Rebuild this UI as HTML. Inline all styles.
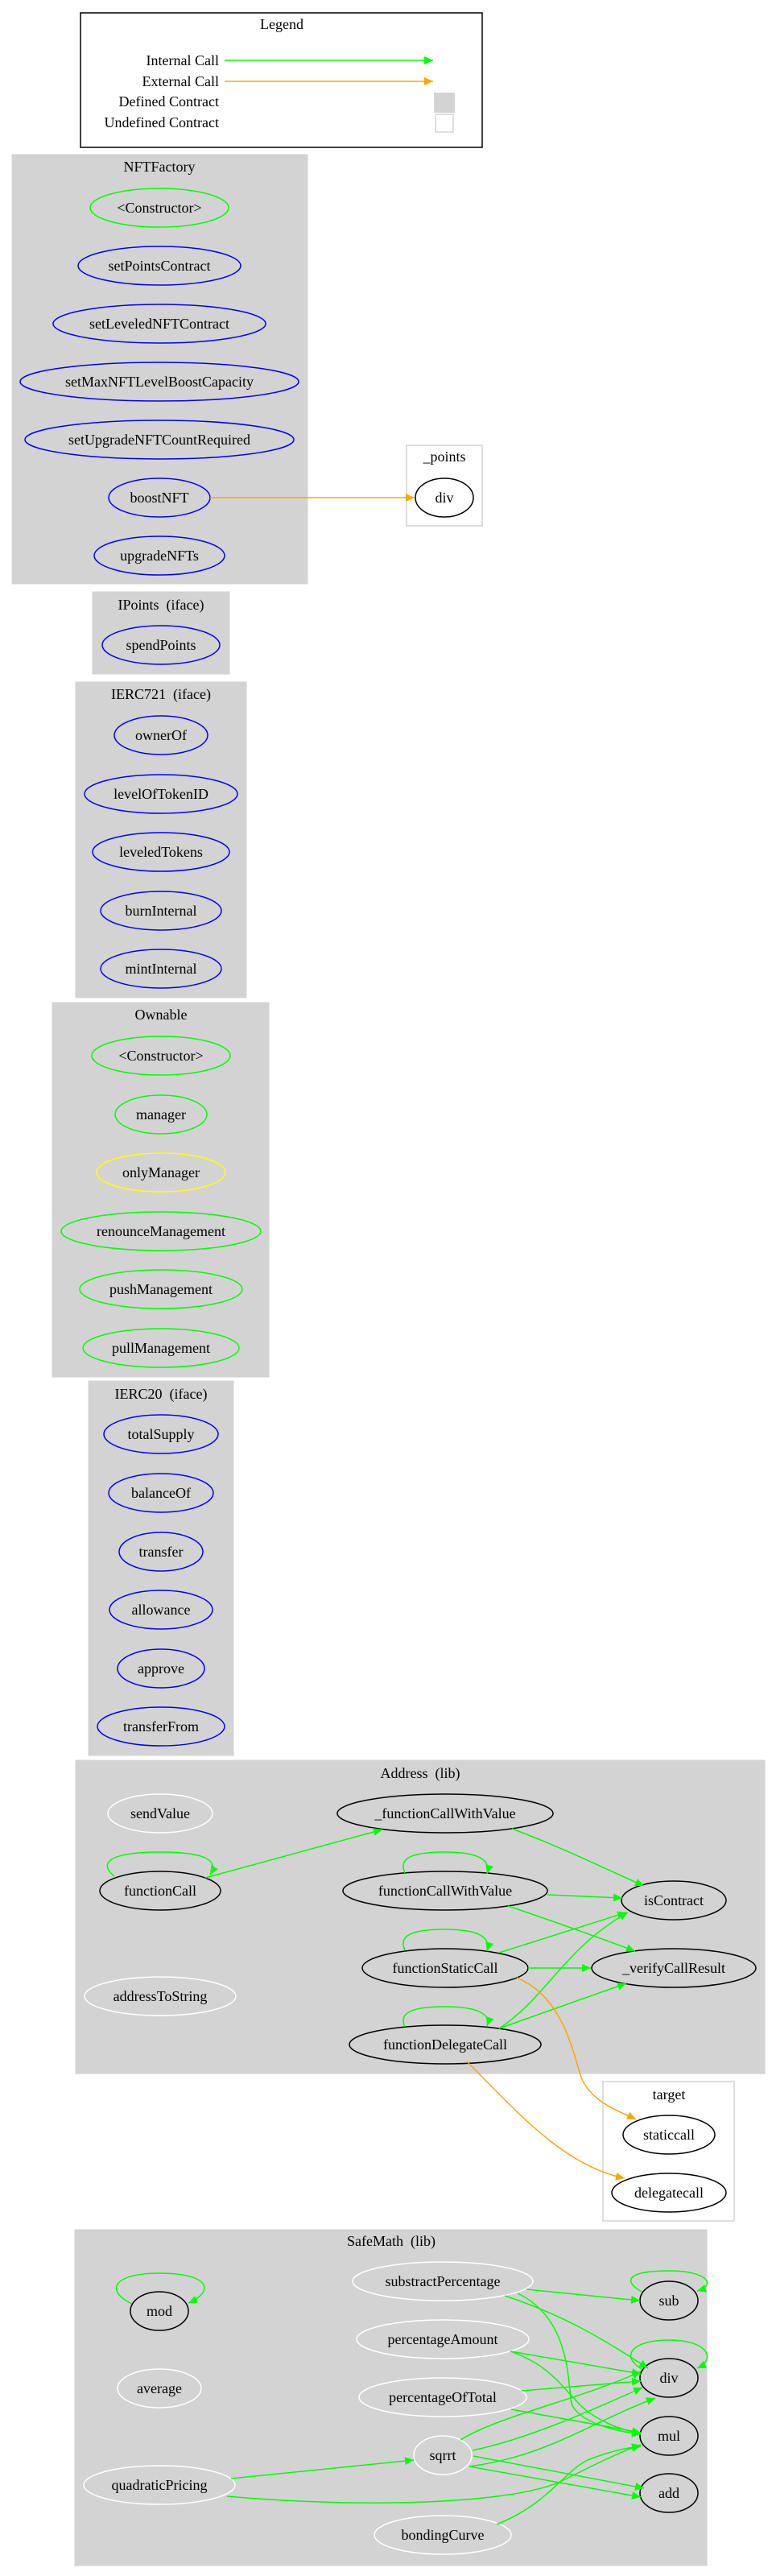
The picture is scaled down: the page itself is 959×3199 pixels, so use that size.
<!DOCTYPE html>
<html><head><meta charset="utf-8">
<style>
html,body{margin:0;padding:0;background:#fff;}
svg{display:block;}
text{font-family:"Liberation Serif",serif;font-size:18px;fill:#000;text-anchor:middle;white-space:pre;}
.g{fill:none;stroke:#00ff00;stroke-width:1.5;}
.o{fill:none;stroke:#ffa500;stroke-width:1.5;}
.cl{fill:#d3d3d3;stroke:#d3d3d3;}
.b{fill:none;stroke:#0000ff;stroke-width:1.5;}
.gn{fill:none;stroke:#00ff00;stroke-width:1.5;}
.y{fill:none;stroke:#ffff00;stroke-width:1.5;}
.k{fill:none;stroke:#000;stroke-width:1.5;}
.w{fill:none;stroke:#fff;stroke-width:1.5;}
</style></head>
<body>
<svg width="959" height="3199" viewBox="0 0 959 3199" xmlns="http://www.w3.org/2000/svg">
<defs>
<marker id="ag" markerUnits="userSpaceOnUse" markerWidth="12" markerHeight="10" refX="11" refY="5" orient="auto"><path d="M0,0 L11,5 L0,10 z" fill="#00ff00"/></marker>
<marker id="ao" markerUnits="userSpaceOnUse" markerWidth="12" markerHeight="10" refX="11" refY="5" orient="auto"><path d="M0,0 L11,5 L0,10 z" fill="#ffa500"/></marker>
</defs>

<!-- Legend -->
<rect x="100" y="16" width="499" height="167" fill="#fff" stroke="#000" stroke-width="1.5"/>
<text x="350" y="36">Legend</text>
<text x="272" y="81" style="text-anchor:end">Internal Call</text>
<text x="272" y="107" style="text-anchor:end">External Call</text>
<text x="272" y="132" style="text-anchor:end">Defined Contract</text>
<text x="272" y="158" style="text-anchor:end">Undefined Contract</text>
<line x1="279" y1="75" x2="538" y2="75" class="g" marker-end="url(#ag)"/>
<line x1="279" y1="101" x2="538" y2="101" class="o" marker-end="url(#ao)"/>
<rect x="539" y="115" width="26" height="25" fill="#d3d3d3"/>
<rect x="541" y="142" width="22" height="22" fill="#fff" stroke="#d3d3d3" stroke-width="1.5"/>

<!-- NFTFactory -->
<rect x="15" y="192" width="367" height="533" class="cl"/>
<text x="198" y="213">NFTFactory</text>
<ellipse cx="198" cy="258" rx="86" ry="24" class="gn"/><text x="198" y="264">&lt;Constructor&gt;</text>
<ellipse cx="198" cy="330" rx="101" ry="24" class="b"/><text x="198" y="336">setPointsContract</text>
<ellipse cx="198" cy="402" rx="132" ry="24" class="b"/><text x="198" y="408">setLeveledNFTContract</text>
<ellipse cx="198" cy="474" rx="173" ry="24" class="b"/><text x="198" y="480">setMaxNFTLevelBoostCapacity</text>
<ellipse cx="198" cy="546" rx="167" ry="24" class="b"/><text x="198" y="552">setUpgradeNFTCountRequired</text>
<ellipse cx="198" cy="618" rx="63" ry="24" class="b"/><text x="198" y="624">boostNFT</text>
<ellipse cx="198" cy="690" rx="81" ry="24" class="b"/><text x="198" y="696">upgradeNFTs</text>

<!-- _points -->
<rect x="505" y="553" width="94" height="100" fill="#fff" stroke="#d3d3d3" stroke-width="1.5"/>
<text x="552" y="573">_points</text>
<ellipse cx="552" cy="618" rx="36" ry="24" class="k"/><text x="552" y="624">div</text>
<line x1="261" y1="618" x2="515" y2="618" class="o" marker-end="url(#ao)"/>

<!-- IPoints -->
<rect x="115" y="735" width="170" height="102" class="cl"/>
<text x="200" y="757">IPoints  (iface)</text>
<ellipse cx="200" cy="801" rx="73" ry="24" class="b"/><text x="200" y="807">spendPoints</text>

<!-- IERC721 -->
<rect x="94" y="847" width="212" height="392" class="cl"/>
<text x="200" y="868">IERC721  (iface)</text>
<ellipse cx="200" cy="913" rx="58" ry="24" class="b"/><text x="200" y="919">ownerOf</text>
<ellipse cx="200" cy="986" rx="95" ry="24" class="b"/><text x="200" y="992">levelOfTokenID</text>
<ellipse cx="200" cy="1058" rx="85" ry="24" class="b"/><text x="200" y="1064">leveledTokens</text>
<ellipse cx="200" cy="1131" rx="75" ry="24" class="b"/><text x="200" y="1137">burnInternal</text>
<ellipse cx="200" cy="1203" rx="75" ry="24" class="b"/><text x="200" y="1209">mintInternal</text>

<!-- Ownable -->
<rect x="65" y="1245" width="269" height="465" class="cl"/>
<text x="200" y="1266">Ownable</text>
<ellipse cx="200" cy="1311" rx="86" ry="24" class="gn"/><text x="200" y="1317">&lt;Constructor&gt;</text>
<ellipse cx="200" cy="1384" rx="57" ry="24" class="gn"/><text x="200" y="1390">manager</text>
<ellipse cx="200" cy="1456" rx="80" ry="24" class="y"/><text x="200" y="1462">onlyManager</text>
<ellipse cx="200" cy="1529" rx="124" ry="24" class="gn"/><text x="200" y="1535">renounceManagement</text>
<ellipse cx="200" cy="1601" rx="101" ry="24" class="gn"/><text x="200" y="1607">pushManagement</text>
<ellipse cx="200" cy="1674" rx="97" ry="24" class="gn"/><text x="200" y="1680">pullManagement</text>

<!-- IERC20 -->
<rect x="110" y="1715" width="180" height="465" class="cl"/>
<text x="200" y="1737">IERC20  (iface)</text>
<ellipse cx="200" cy="1781" rx="71" ry="24" class="b"/><text x="200" y="1787">totalSupply</text>
<ellipse cx="200" cy="1854" rx="65" ry="24" class="b"/><text x="200" y="1860">balanceOf</text>
<ellipse cx="200" cy="1927" rx="52" ry="24" class="b"/><text x="200" y="1933">transfer</text>
<ellipse cx="200" cy="1999" rx="64" ry="24" class="b"/><text x="200" y="2005">allowance</text>
<ellipse cx="200" cy="2072" rx="54" ry="24" class="b"/><text x="200" y="2078">approve</text>
<ellipse cx="200" cy="2144" rx="79" ry="24" class="b"/><text x="200" y="2150">transferFrom</text>

<!-- Address -->
<rect x="94" y="2186" width="856" height="389" class="cl"/>
<text x="522" y="2208">Address  (lib)</text>

<!-- target box (drawn before edges) -->
<rect x="749" y="2585" width="163" height="173" fill="#fff" stroke="#d3d3d3" stroke-width="1.5"/>
<text x="831" y="2607">target</text>

<ellipse cx="199" cy="2252" rx="65" ry="24" class="w"/><text x="199" y="2258">sendValue</text>
<ellipse cx="553" cy="2252" rx="134" ry="24" class="k"/><text x="553" y="2258">_functionCallWithValue</text>
<ellipse cx="199" cy="2348" rx="75" ry="24" class="k"/><text x="199" y="2354">functionCall</text>
<ellipse cx="553" cy="2348" rx="127" ry="24" class="k"/><text x="553" y="2354">functionCallWithValue</text>
<ellipse cx="837" cy="2360" rx="65" ry="24" class="k"/><text x="837" y="2366">isContract</text>
<ellipse cx="553" cy="2444" rx="103" ry="24" class="k"/><text x="553" y="2450">functionStaticCall</text>
<ellipse cx="837" cy="2444" rx="102" ry="24" class="k"/><text x="837" y="2450">_verifyCallResult</text>
<ellipse cx="199" cy="2479" rx="94" ry="24" class="w"/><text x="199" y="2485">addressToString</text>
<ellipse cx="553" cy="2539" rx="119" ry="24" class="k"/><text x="553" y="2545">functionDelegateCall</text>

<path d="M142,2330 C120,2312 140,2300 199,2300 C255,2300 272,2310 261,2328" class="g" marker-end="url(#ag)"/>
<path d="M255,2332 L475,2272" class="g" marker-end="url(#ag)"/>
<path d="M636,2271 C700,2295 750,2320 800,2342" class="g" marker-end="url(#ag)"/>
<path d="M503,2326 C495,2308 510,2300 553,2300 C595,2300 610,2310 605,2327" class="g" marker-end="url(#ag)"/>
<path d="M680,2353 L773,2357" class="g" marker-end="url(#ag)"/>
<path d="M631,2367 C700,2390 740,2405 789,2423" class="g" marker-end="url(#ag)"/>
<path d="M503,2422 C495,2404 510,2396 553,2396 C595,2396 610,2406 605,2423" class="g" marker-end="url(#ag)"/>
<path d="M620,2425 L778,2375" class="g" marker-end="url(#ag)"/>
<path d="M656,2444 L734,2444" class="g" marker-end="url(#ag)"/>
<path d="M503,2517 C495,2500 510,2492 553,2492 C595,2492 610,2502 605,2516" class="g" marker-end="url(#ag)"/>
<path d="M620,2519 C680,2480 700,2420 780,2375" class="g" marker-end="url(#ag)"/>
<path d="M620,2519 L778,2463" class="g" marker-end="url(#ag)"/>
<path d="M642,2456 C700,2480 712,2550 722,2580 C735,2610 765,2620 790,2632" class="o" marker-end="url(#ao)"/>
<path d="M580,2560 C640,2620 700,2690 776,2705" class="o" marker-end="url(#ao)"/>

<ellipse cx="831" cy="2651" rx="57" ry="24" class="k"/><text x="831" y="2657">staticcall</text>
<ellipse cx="831" cy="2723" rx="71" ry="24" class="k"/><text x="831" y="2729">delegatecall</text>

<!-- SafeMath -->
<rect x="93" y="2769" width="785" height="417" class="cl"/>
<text x="486" y="2789">SafeMath  (lib)</text>
<ellipse cx="198" cy="2870" rx="36" ry="24" class="k"/><text x="198" y="2876">mod</text>
<ellipse cx="550" cy="2833" rx="112" ry="24" class="w"/><text x="550" y="2839">substractPercentage</text>
<ellipse cx="831" cy="2857" rx="36" ry="24" class="k"/><text x="831" y="2863">sub</text>
<ellipse cx="550" cy="2905" rx="107" ry="24" class="w"/><text x="550" y="2911">percentageAmount</text>
<ellipse cx="198" cy="2966" rx="52" ry="24" class="w"/><text x="198" y="2972">average</text>
<ellipse cx="831" cy="2953" rx="36" ry="24" class="k"/><text x="831" y="2959">div</text>
<ellipse cx="550" cy="2977" rx="104" ry="24" class="w"/><text x="550" y="2983">percentageOfTotal</text>
<ellipse cx="831" cy="3025" rx="36" ry="24" class="k"/><text x="831" y="3031">mul</text>
<ellipse cx="550" cy="3049" rx="36" ry="24" class="w"/><text x="550" y="3055">sqrrt</text>
<ellipse cx="198" cy="3086" rx="94" ry="24" class="w"/><text x="198" y="3092">quadraticPricing</text>
<ellipse cx="831" cy="3096" rx="36" ry="24" class="k"/><text x="831" y="3102">add</text>
<ellipse cx="550" cy="3148" rx="85" ry="24" class="w"/><text x="550" y="3154">bondingCurve</text>

<path d="M164,2861 C130,2845 140,2823 198,2823 C260,2823 268,2845 234,2860" class="g" marker-end="url(#ag)"/>
<path d="M797,2846 C770,2830 785,2820 831,2820 C880,2820 890,2838 866,2845" class="g" marker-end="url(#ag)"/>
<path d="M797,2942 C770,2926 785,2906 831,2906 C880,2906 890,2930 866,2941" class="g" marker-end="url(#ag)"/>
<path d="M654,2843 L795,2857" class="g" marker-end="url(#ag)"/>
<path d="M627,2851 C700,2875 750,2905 805,2941" class="g" marker-end="url(#ag)"/>
<path d="M643,2848 C710,2880 705,2960 710,2985 C720,3010 770,3020 796,3023" class="g" marker-end="url(#ag)"/>
<path d="M634,2920 L796,2948" class="g" marker-end="url(#ag)"/>
<path d="M634,2920 C690,2940 700,2970 730,2995 C755,3012 775,3018 796,3022" class="g" marker-end="url(#ag)"/>
<path d="M648,2969 L796,2957" class="g" marker-end="url(#ag)"/>
<path d="M635,2992 L796,3021" class="g" marker-end="url(#ag)"/>
<path d="M572,3030 C620,3000 720,2980 796,2945" class="g" marker-end="url(#ag)"/>
<path d="M587,3043 C650,3030 720,3000 798,2965" class="g" marker-end="url(#ag)"/>
<path d="M583,3063 C680,3050 730,3010 814,2978" class="g" marker-end="url(#ag)"/>
<path d="M588,3050 L800,3090" class="g" marker-end="url(#ag)"/>
<path d="M583,3063 L796,3101" class="g" marker-end="url(#ag)"/>
<path d="M287,3078 L514,3055" class="g" marker-end="url(#ag)"/>
<path d="M282,3100 C450,3115 640,3110 700,3080 C740,3060 770,3045 796,3036" class="g" marker-end="url(#ag)"/>
<path d="M617,3135 C680,3110 700,3070 730,3055 C755,3045 775,3040 796,3038" class="g" marker-end="url(#ag)"/>
</svg>
</body></html>
